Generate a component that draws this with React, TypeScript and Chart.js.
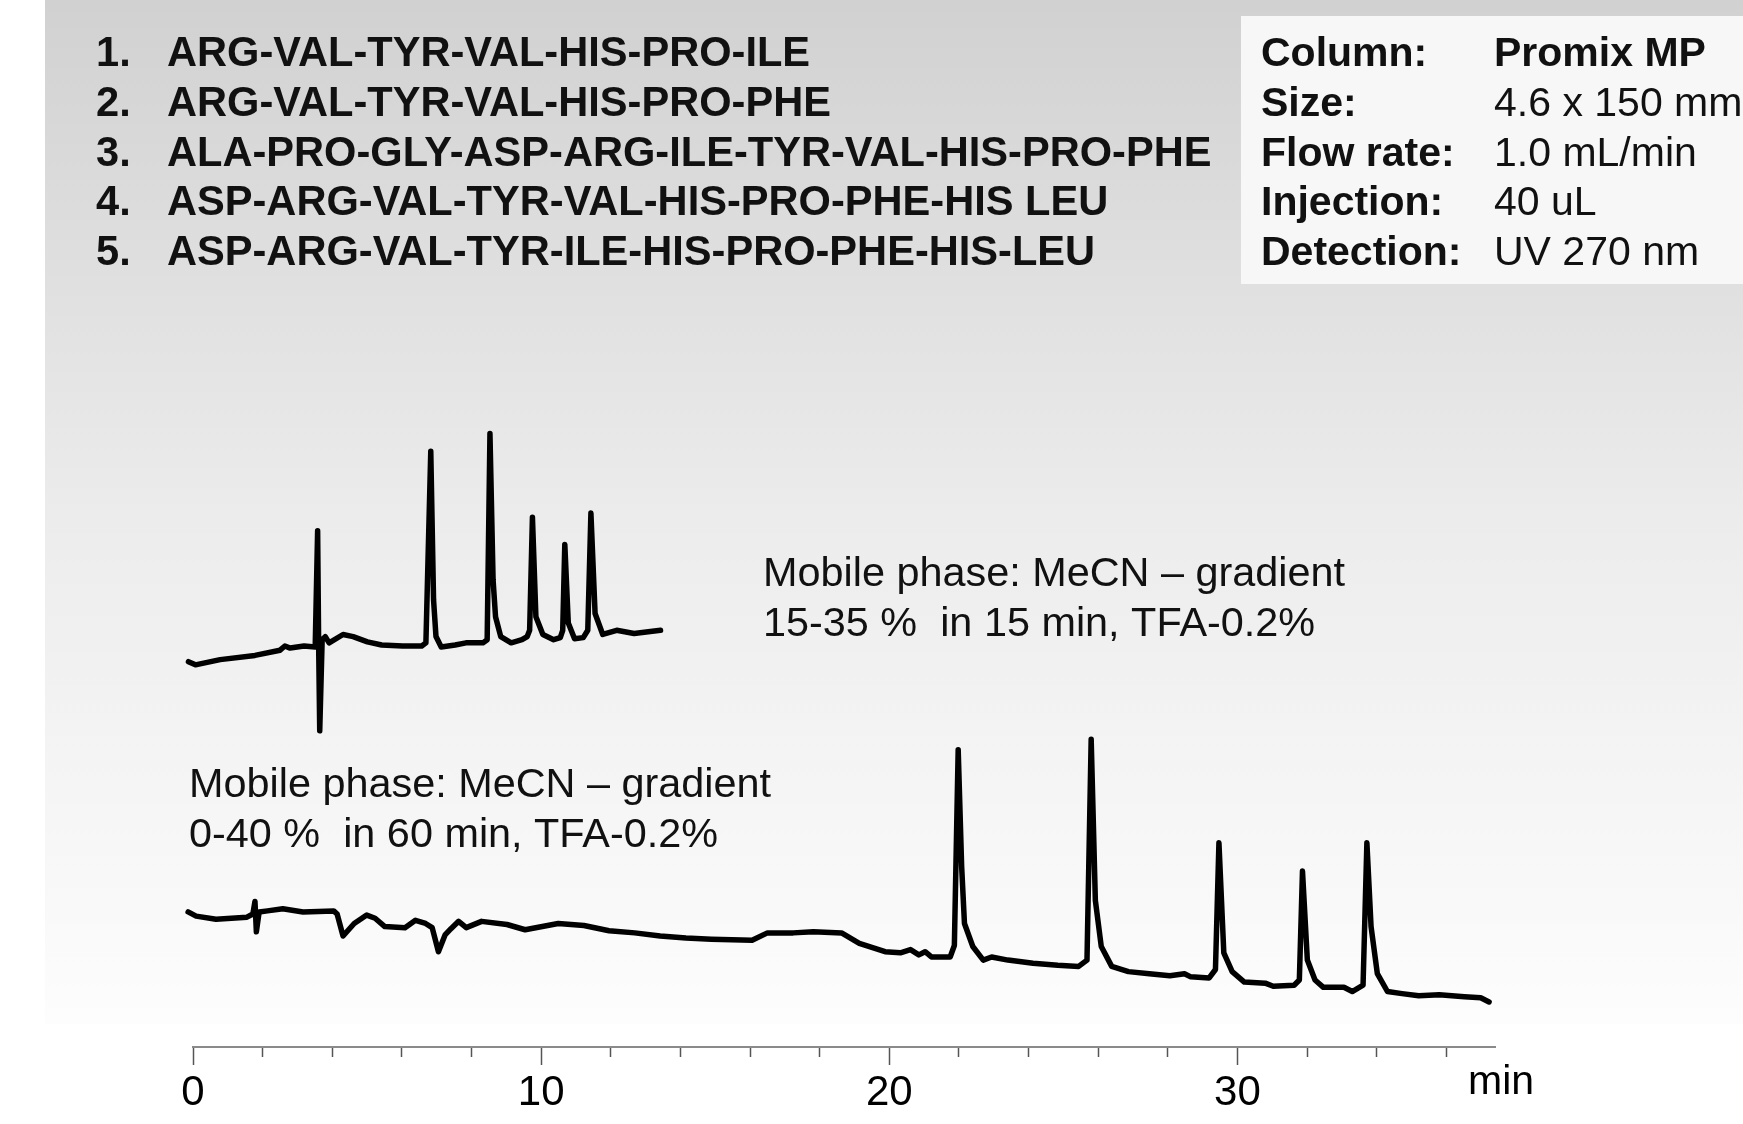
import React, { useEffect, useRef } from 'react';
import { Chart, registerables } from 'chart.js';

Chart.register(...registerables);

// ---- Data ----
// Upper chromatogram: MeCN gradient 15-35 % in 15 min
const upperTime = [
  -0.23, -0.13, 0.07, 0.78, 1.78, 2.5, 2.64, 2.79, 3.19, 3.51, 3.58, 3.61, 3.64, 3.71, 3.8, 3.91,
  4.31, 4.6, 5.01, 5.42, 6.02, 6.57, 6.69, 6.83, 6.91, 6.98, 7.13, 7.53, 7.84, 8.33, 8.45, 8.53,
  8.62, 8.69, 8.84, 9.14, 9.45, 9.6, 9.67, 9.75, 9.85, 10.05, 10.36, 10.55, 10.62, 10.68, 10.78,
  10.96, 11.21, 11.34, 11.43, 11.55, 11.77, 12.17, 12.67, 13.43,
];
const upperSignal = [
  35.8, 36.8, 36.5, 37.0, 37.4, 37.9, 38.3, 38.1, 38.3, 38.2, 49.3, 38.2, 30.2, 38.9, 39.2, 38.6,
  39.4, 39.2, 38.7, 38.4, 38.3, 38.3, 38.6, 56.9, 42.7, 39.2, 38.2, 38.4, 38.6, 38.6, 38.9, 58.6,
  44.6, 41.1, 39.2, 38.6, 38.9, 39.2, 39.8, 50.6, 41.1, 39.4, 38.9, 39.1, 39.8, 48.0, 40.5,
  39.0, 39.1, 39.8, 51.0, 41.4, 39.4, 39.8, 39.5, 39.8,
];

// Lower chromatogram: MeCN gradient 0-40 % in 60 min
const lowerTime = [
  -0.21, -0.14, 0.09, 0.66, 1.55, 1.72, 1.78, 1.82, 1.9, 2.14, 2.58, 3.16, 4.04, 4.14, 4.31, 4.63,
  4.99, 5.23, 5.51, 6.09, 6.39, 6.68, 6.87, 7.05, 7.24, 7.41, 7.63, 7.85, 8.29, 9.02, 9.54, 10.49,
  11.23, 11.95, 12.69, 13.42, 14.16, 14.89, 16.06, 16.5, 17.24, 17.82, 18.63, 19.14, 19.88, 20.32,
  20.61, 20.85, 21.03, 21.21, 21.75, 21.87, 21.98, 22.08, 22.16, 22.4, 22.7, 22.94, 23.41, 24.13,
  24.84, 25.44, 25.68, 25.8, 25.92, 26.09, 26.39, 26.87, 27.47, 28.06, 28.48, 28.66, 29.19, 29.37,
  29.47, 29.61, 29.85, 30.2, 30.8, 31.03, 31.63, 31.78, 31.87, 32.01, 32.23, 32.47, 33.06, 33.3,
  33.61, 33.72, 33.84, 34.02, 34.31, 34.73, 35.21, 35.8, 36.52, 36.99, 37.23,
];
const lowerSignal = [
  12.0, 12.9, 12.5, 12.2, 12.4, 12.7, 13.9, 11.0, 12.9, 13.0, 13.2, 12.9, 13.0, 12.7, 10.6, 11.8,
  12.6, 12.3, 11.5, 11.4, 12.1, 11.8, 11.4, 9.1, 10.7, 11.3, 12.0, 11.4, 12.0, 11.7, 11.2, 11.8,
  11.6, 11.1, 10.9, 10.6, 10.4, 10.3, 10.2, 10.9, 10.9, 11.0, 10.9, 9.9, 9.1, 9.0,
  9.3, 8.8, 9.1, 8.6, 8.6, 9.7, 28.4, 17.2, 11.8, 9.6, 8.3, 8.6, 8.3, 8.0,
  7.8, 7.7, 8.3, 29.4, 14.0, 9.6, 7.7, 7.2, 7.0, 6.8, 7.0, 6.7, 6.6, 7.4,
  19.5, 9.0, 7.2, 6.2, 6.1, 5.8, 5.9, 6.4, 16.8, 8.3, 6.4, 5.7, 5.7, 5.3,
  5.9, 19.5, 11.5, 7.0, 5.3, 5.1, 4.9, 5.0, 4.8, 4.7, 4.3,
];

const majorTicks = [0, 10, 20, 30];
const tickStep = 2;
const xMin = 0;
const xMax = 37.4;
const xUnit = 'min';

const peptideNumbers = ['1.', '2.', '3.', '4.', '5.'];
const peptides = [
  'ARG-VAL-TYR-VAL-HIS-PRO-ILE',
  'ARG-VAL-TYR-VAL-HIS-PRO-PHE',
  'ALA-PRO-GLY-ASP-ARG-ILE-TYR-VAL-HIS-PRO-PHE',
  'ASP-ARG-VAL-TYR-VAL-HIS-PRO-PHE-HIS LEU',
  'ASP-ARG-VAL-TYR-ILE-HIS-PRO-PHE-HIS-LEU',
];

const conditionLabels = ['Column:', 'Size:', 'Flow rate:', 'Injection:', 'Detection:'];
const conditionValues = ['Promix MP', '4.6 x 150 mm', '1.0 mL/min', '40 uL', 'UV 270 nm'];

const upperNote = ['Mobile phase: MeCN \u2013 gradient', '15-35 %  in 15 min, TFA-0.2%'];
const lowerNote = ['Mobile phase: MeCN \u2013 gradient', '0-40 %  in 60 min, TFA-0.2%'];

const FONT = "'Liberation Sans', Arial, Helvetica, sans-serif";
const W = 1743;
const H = 1124;

const decorPlugin = {
  id: 'decor',
  beforeDraw(chart: any) {
    const ctx = chart.ctx;
    ctx.save();
    ctx.fillStyle = '#ffffff';
    ctx.fillRect(0, 0, W, H);
    const g = ctx.createLinearGradient(0, 0, 0, 1030);
    g.addColorStop(0, '#d1d1d1');
    g.addColorStop(0.5, '#ececec');
    g.addColorStop(1, '#fdfdfd');
    ctx.fillStyle = g;
    ctx.fillRect(45, 0, W - 45, 1024);
    ctx.fillStyle = '#f7f7f7';
    ctx.fillRect(1241, 16, W - 1241, 268);
    ctx.restore();
  },
  afterDraw(chart: any) {
    const ctx = chart.ctx;
    ctx.save();
    ctx.fillStyle = '#111111';
    ctx.textBaseline = 'alphabetic';
    ctx.textAlign = 'left';
    // peptide list
    ctx.font = `bold 41.6px ${FONT}`;
    peptides.forEach((p, i) => {
      const y = 66 + i * 49.8;
      ctx.fillText(peptideNumbers[i], 96, y);
      ctx.fillText(p, 167, y);
    });
    // conditions box
    conditionLabels.forEach((l, i) => {
      const y = 66 + i * 49.8;
      ctx.font = `bold 41px ${FONT}`;
      ctx.fillText(l, 1261, y);
      ctx.font = i === 0 ? `bold 41px ${FONT}` : `41px ${FONT}`;
      ctx.fillText(conditionValues[i], 1494, y);
    });
    // notes
    ctx.font = `41.4px ${FONT}`;
    upperNote.forEach((t, i) => ctx.fillText(t, 763, 586 + i * 49.5));
    lowerNote.forEach((t, i) => ctx.fillText(t, 189, 797 + i * 49.5));
    // unit label
    const xs = chart.scales.x;
    ctx.fillStyle = '#000';
    ctx.font = `41px ${FONT}`;
    ctx.fillText(xUnit, xs.right - 27, 1094);
    ctx.restore();
  },
};

export default function App() {
  const ref = useRef<HTMLCanvasElement | null>(null);
  useEffect(() => {
    if (!ref.current) return;
    const chart = new Chart(ref.current, {
      type: 'line',
      data: {
        datasets: [
          {
            label: 'Gradient 15-35 % in 15 min',
            data: upperTime.map((t, i) => ({ x: t, y: upperSignal[i] })),
            borderColor: '#000',
            borderWidth: 5.5,
            pointRadius: 0,
            tension: 0,
            borderJoinStyle: 'round',
            borderCapStyle: 'round',
            clip: false,
          } as any,
          {
            label: 'Gradient 0-40 % in 60 min',
            data: lowerTime.map((t, i) => ({ x: t, y: lowerSignal[i] })),
            borderColor: '#000',
            borderWidth: 5.5,
            pointRadius: 0,
            tension: 0,
            borderJoinStyle: 'round',
            borderCapStyle: 'round',
            clip: false,
          } as any,
        ],
      },
      options: {
        responsive: false,
        animation: false,
        devicePixelRatio: 1,
        layout: { padding: { left: 193, right: W - 1495, top: 0, bottom: 0 } },
        plugins: { legend: { display: false }, tooltip: { enabled: false } },
        scales: {
          x: {
            type: 'linear',
            position: 'bottom',
            min: xMin,
            max: xMax,
            afterFit: (s: any) => {
              s.height = 77;
            },
            border: { display: true, color: '#8a8a8a', width: 2 },
            grid: {
              display: true,
              drawOnChartArea: false,
              drawTicks: true,
              tickLength: 18,
              tickColor: '#555',
              tickWidth: 1.5,
              tickBorderDash: (c: any) =>
                c.tick && majorTicks.includes(c.tick.value) ? [] : [9, 100],
            },
            ticks: {
              stepSize: tickStep,
              autoSkip: false,
              includeBounds: false,
              maxRotation: 0,
              padding: 3,
              color: '#000',
              font: { family: FONT, size: 42 },
              callback: (v: any) => (majorTicks.includes(Number(v)) ? String(v) : ''),
            },
          },
          y: { display: false, min: 0, max: 100 },
        },
      } as any,
      plugins: [decorPlugin],
    });
    return () => chart.destroy();
  }, []);
  return (
    <div style={{ position: 'absolute', left: 0, top: 0, width: W, height: H }}>
      <canvas ref={ref} width={W} height={H} style={{ display: 'block' }} />
    </div>
  );
}
